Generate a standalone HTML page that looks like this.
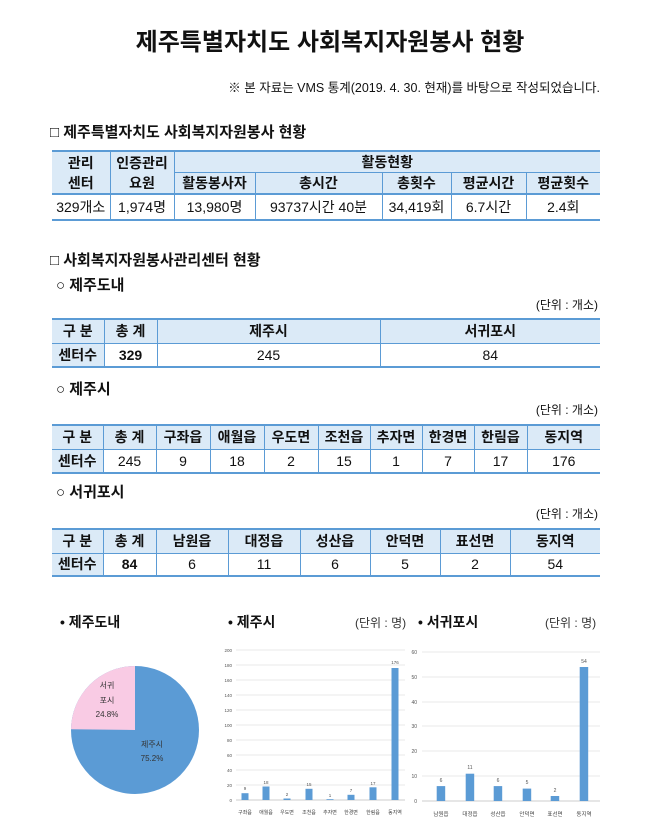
<!DOCTYPE html>
<html><head><meta charset="utf-8">
<style>
*{margin:0;padding:0;box-sizing:border-box}
body{width:672px;height:823px;background:#fff;position:relative;font-family:"Liberation Sans","Noto Sans CJK KR",sans-serif;color:#111;overflow:hidden}
.a{position:absolute;white-space:nowrap}
table{position:absolute;border-collapse:collapse;table-layout:fixed;left:52px;width:548px}
td{text-align:center;font-size:14px;border-left:1px solid #5b9bd5;border-right:1px solid #5b9bd5;padding:0;overflow:hidden;white-space:nowrap}
td:first-child{border-left:none}td:last-child{border-right:none}
.h td{background:#dbeaf7;font-weight:bold}
tr.top td{border-top:2px solid #5b9bd5}
tr.mid td{border-top:2px solid #5b9bd5}
tr.bot td{border-bottom:2px solid #5b9bd5}
tr.thin td{border-top:1px solid #5b9bd5}
.sec{font-size:15px;font-weight:bold}
.unit{font-size:12px;right:74px}
</style></head><body>
<div class="a" style="left:0;width:660px;text-align:center;top:22px;font-size:24px;font-weight:bold">제주특별자치도 사회복지자원봉사 현황</div>
<div class="a" style="right:72px;top:77px;font-size:12.5px">※ 본 자료는 VMS 통계(2019. 4. 30. 현재)를 바탕으로 작성되었습니다.</div>
<div class="a sec" style="left:50px;top:121px">□ 제주특별자치도 사회복지자원봉사 현황</div>

<table style="top:150px">
<colgroup><col style="width:58px"><col style="width:64px"><col style="width:81px"><col style="width:127px"><col style="width:69px"><col style="width:75px"><col style="width:74px"></colgroup>
<tr class="h top" style="height:21px"><td rowspan="2" style="line-height:20px">관리<br>센터</td><td rowspan="2" style="line-height:20px">인증관리<br>요원</td><td colspan="5" style="border-bottom:1px solid #5b9bd5">활동현황</td></tr>
<tr class="h" style="height:21px"><td>활동봉사자</td><td>총시간</td><td>총횟수</td><td>평균시간</td><td>평균횟수</td></tr>
<tr class="mid bot" style="height:26px"><td>329개소</td><td>1,974명</td><td>13,980명</td><td>93737시간 40분</td><td>34,419회</td><td>6.7시간</td><td>2.4회</td></tr>
</table>

<div class="a sec" style="left:50px;top:249px">□ 사회복지자원봉사관리센터 현황</div>
<div class="a sec" style="left:56px;top:274px">○ 제주도내</div>
<div class="a unit" style="top:296px">(단위 : 개소)</div>
<table style="top:318px">
<colgroup><col style="width:52px"><col style="width:53px"><col style="width:223px"><col style="width:220px"></colgroup>
<tr class="h top" style="height:24px"><td>구 분</td><td>총 계</td><td>제주시</td><td>서귀포시</td></tr>
<tr class="thin bot" style="height:24px"><td style="background:#dbeaf7;font-weight:bold">센터수</td><td style="font-weight:bold">329</td><td>245</td><td>84</td></tr>
</table>

<div class="a sec" style="left:56px;top:378px">○ 제주시</div>
<div class="a unit" style="top:401px">(단위 : 개소)</div>
<table style="top:424px">
<colgroup><col style="width:51px"><col style="width:53px"><col style="width:54px"><col style="width:54px"><col style="width:54px"><col style="width:52px"><col style="width:52px"><col style="width:52px"><col style="width:53px"><col style="width:73px"></colgroup>
<tr class="h top" style="height:24px"><td>구 분</td><td>총 계</td><td>구좌읍</td><td>애월읍</td><td>우도면</td><td>조천읍</td><td>추자면</td><td>한경면</td><td>한림읍</td><td>동지역</td></tr>
<tr class="thin bot" style="height:24px"><td style="background:#dbeaf7;font-weight:bold">센터수</td><td>245</td><td>9</td><td>18</td><td>2</td><td>15</td><td>1</td><td>7</td><td>17</td><td>176</td></tr>
</table>

<div class="a sec" style="left:56px;top:481px">○ 서귀포시</div>
<div class="a unit" style="top:505px">(단위 : 개소)</div>
<table style="top:528px">
<colgroup><col style="width:51px"><col style="width:53px"><col style="width:72px"><col style="width:72px"><col style="width:70px"><col style="width:70px"><col style="width:70px"><col style="width:90px"></colgroup>
<tr class="h top" style="height:24px"><td>구 분</td><td>총 계</td><td>남원읍</td><td>대정읍</td><td>성산읍</td><td>안덕면</td><td>표선면</td><td>동지역</td></tr>
<tr class="thin bot" style="height:23px"><td style="background:#dbeaf7;font-weight:bold">센터수</td><td style="font-weight:bold">84</td><td>6</td><td>11</td><td>6</td><td>5</td><td>2</td><td>54</td></tr>
</table>

<svg class="a" style="left:0;top:0" width="672" height="823" font-family="Liberation Sans, Noto Sans CJK KR, sans-serif">
<g font-size="14" font-weight="bold" fill="#111">
<text x="60" y="627">• 제주도내</text>
<text x="228" y="627">• 제주시</text>
<text x="418" y="627">• 서귀포시</text>
</g>
<g font-size="12" fill="#333">
<text x="355" y="627">(단위 : 명)</text>
<text x="545" y="627">(단위 : 명)</text>
</g>
<!-- pie -->
<circle cx="135" cy="730" r="64" fill="#5b9bd5"/>
<path d="M135 730 L135 666 A64 64 0 0 0 71 729.2 Z" fill="#f9cbe4"/>
<g font-size="8" fill="#333" text-anchor="middle">
<text x="107" y="688">서귀</text><text x="107" y="703">포시</text><text x="107" y="717">24.8%</text>
<text x="152" y="747">제주시</text><text x="152" y="761">75.2%</text>
</g>
<!-- jeju bar chart -->
<g stroke="#e3e3e3" stroke-width="0.7">
<line x1="236" x2="405" y1="650" y2="650"/><line x1="236" x2="405" y1="665" y2="665"/><line x1="236" x2="405" y1="680" y2="680"/><line x1="236" x2="405" y1="695" y2="695"/><line x1="236" x2="405" y1="710" y2="710"/><line x1="236" x2="405" y1="725" y2="725"/><line x1="236" x2="405" y1="740" y2="740"/><line x1="236" x2="405" y1="755" y2="755"/><line x1="236" x2="405" y1="770" y2="770"/><line x1="236" x2="405" y1="785" y2="785"/>
</g>
<line x1="236" x2="405" y1="800" y2="800" stroke="#bbb" stroke-width="0.8"/>
<g font-size="4.5" fill="#555" text-anchor="end">
<text x="232" y="652">200</text><text x="232" y="667">180</text><text x="232" y="682">160</text><text x="232" y="697">140</text><text x="232" y="712">120</text><text x="232" y="727">100</text><text x="232" y="742">80</text><text x="232" y="757">60</text><text x="232" y="772">40</text><text x="232" y="787">20</text><text x="232" y="802">0</text>
</g>
<g fill="#5b9bd5">
<rect x="241.5" y="793.2" width="7" height="6.8"/><rect x="262.5" y="786.5" width="7" height="13.5"/><rect x="283.5" y="798.5" width="7" height="1.5"/><rect x="305.5" y="788.8" width="7" height="11.2"/><rect x="326.5" y="799.2" width="7" height="0.8"/><rect x="347.5" y="794.8" width="7" height="5.2"/><rect x="369.5" y="787.3" width="7" height="12.7"/><rect x="391.5" y="668" width="7" height="132"/>
</g>
<g font-size="4.5" fill="#555" text-anchor="middle">
<text x="245" y="790">9</text><text x="266" y="784">18</text><text x="287" y="796">2</text><text x="309" y="786">15</text><text x="330" y="797">1</text><text x="351" y="792">7</text><text x="373" y="785">17</text><text x="395" y="664">176</text>
</g>
<g font-size="5" fill="#444" text-anchor="middle">
<text x="245" y="814">구좌읍</text><text x="266" y="814">애월읍</text><text x="287" y="814">우도면</text><text x="309" y="814">조천읍</text><text x="330" y="814">추자면</text><text x="351" y="814">한경면</text><text x="373" y="814">한림읍</text><text x="395" y="814">동지역</text>
</g>
<!-- seogwipo bar chart -->
<g stroke="#e3e3e3" stroke-width="0.7">
<line x1="422" x2="600" y1="652" y2="652"/><line x1="422" x2="600" y1="677" y2="677"/><line x1="422" x2="600" y1="702" y2="702"/><line x1="422" x2="600" y1="726" y2="726"/><line x1="422" x2="600" y1="751" y2="751"/><line x1="422" x2="600" y1="776" y2="776"/>
</g>
<line x1="422" x2="600" y1="801" y2="801" stroke="#bbb" stroke-width="0.8"/>
<g font-size="5" fill="#555" text-anchor="end">
<text x="417" y="654">60</text><text x="417" y="679">50</text><text x="417" y="704">40</text><text x="417" y="728">30</text><text x="417" y="753">20</text><text x="417" y="778">10</text><text x="417" y="803">0</text>
</g>
<g fill="#5b9bd5">
<rect x="436.7" y="786.1" width="8.5" height="14.9"/><rect x="465.7" y="773.7" width="8.5" height="27.3"/><rect x="493.7" y="786.1" width="8.5" height="14.9"/><rect x="522.7" y="788.6" width="8.5" height="12.4"/><rect x="550.7" y="796" width="8.5" height="5"/><rect x="579.7" y="667" width="8.5" height="134"/>
</g>
<g font-size="5" fill="#555" text-anchor="middle">
<text x="441" y="782">6</text><text x="470" y="769">11</text><text x="498" y="782">6</text><text x="527" y="784">5</text><text x="555" y="792">2</text><text x="584" y="663">54</text>
</g>
<g font-size="5.5" fill="#444" text-anchor="middle">
<text x="441" y="816">남원읍</text><text x="470" y="816">대정읍</text><text x="498" y="816">성산읍</text><text x="527" y="816">안덕면</text><text x="555" y="816">표선면</text><text x="584" y="816">동지역</text>
</g>
</svg>
</body></html>
